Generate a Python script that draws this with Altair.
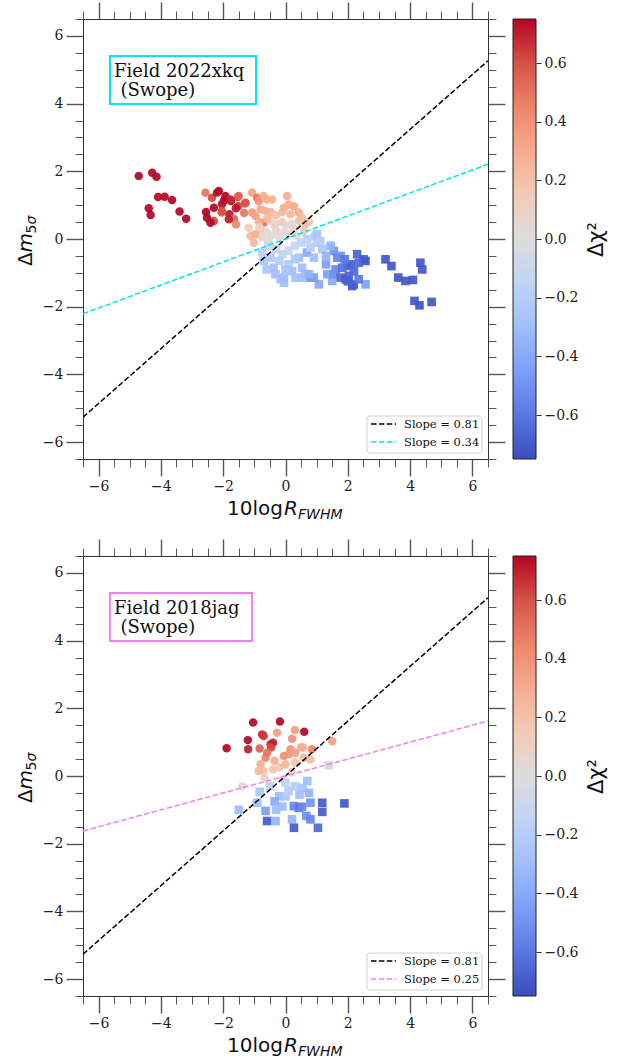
import altair as alt
import pandas as pd

# ---------------- data ----------------
X_MIN, X_MAX = -6.5, 6.5
Y_MIN, Y_MAX = -6.5, 6.5
tick_values = [v / 2 for v in range(-13, 14)]
x_ends = [X_MIN, X_MAX]

coolwarm = ['#3b4cc0', '#5977e3', '#7b9ff9', '#9ebeff', '#c0d4f5', '#dddcdc',
            '#f2cbb7', '#f7ac8e', '#ee8468', '#d65244', '#b40426']
chi_min, chi_max = -0.75, 0.75
cbar_ticks = [-0.6, -0.4, -0.2, 0.0, 0.2, 0.4, 0.6]

# Panel 1: Field 2022xkq
p1_x = [-4.71, -4.28, -4.14, -4.39, -4.33, -4.09, -3.88, -3.64, -3.40, -3.19,
        -2.57, -2.36, -2.20, -2.14, -2.55, -2.52, -2.30, -2.30, -2.05, -1.98,
        -2.04, -1.93, -1.80, -1.75, -1.66, -1.59, -1.53, -1.52, -1.59, -1.31,
        -1.33, -1.82, -2.41, -1.77, -1.50, -1.28, -2.04, -1.07, -0.91, -0.86,
        -0.70, -0.59, -0.43, -1.07, -0.96, -0.80, -0.64, -0.70, -1.18, -1.12,
        -0.96, -1.02, -0.48, -0.30, -0.10, -0.50, -0.30, -0.10, 0.05, 0.10,
        -0.05, 0.27, 0.16, 0.43, 0.53, 0.43, 0.64, 0.59, 0.75, -0.80,
        -0.85, -0.60, -0.75, -0.60, -0.45, -0.30, -0.20, -0.05, 0.10, 0.25,
        0.35, -0.55, -0.85, 0.00, 0.20, -0.35,
        -0.75, -0.70, -0.48, -0.38, -0.32, -0.16, -0.05, 0.10, 0.21, 0.32,
        0.43, 0.53, 0.64, 0.69, 0.91, 0.96, 1.01, 1.01, 1.12, 1.18,
        -0.05, 0.53, -0.55, -0.30, -0.10, 0.10, 0.30, 0.50, 0.70, -0.20,
        0.00, 0.30, 0.80, -0.60,
        0.80, 1.07, 0.91, 0.75, 1.34, 1.50, 1.55, 1.66, 1.77, 1.61,
        1.55, 1.30, 1.30, 2.57, 1.45,
        2.30, 2.51, 2.35, 1.98, 2.09, 1.82, 1.77, 1.93, 2.03, 2.14,
        2.19, 2.35, 2.57, 2.20, 1.90, 3.21, 3.40, 3.62, 3.85, 4.09,
        4.33, 4.39, 4.14, 4.30, 4.69, 2.00]
p1_y = [1.86, 1.96, 1.84, 0.91, 0.71, 1.24, 1.25, 1.15, 0.81, 0.60,
        1.37, 1.22, 1.37, 1.42, 0.80, 0.63, 0.92, 0.53, 0.78, 1.12,
        1.03, 1.27, 0.73, 1.12, 0.60, 0.43, 1.24, 0.97, 0.91, 1.05,
        0.77, 0.58, 0.48, 1.17, 1.27, 1.07, 0.83, 1.37, 1.22, 1.12,
        1.27, 1.17, 1.17, 0.78, 0.68, 0.88, 0.83, 0.48, 0.33, 0.09,
        0.14, -0.11, 0.80, 0.70, 0.80, 0.55, 0.45, 0.50, 1.27, 1.02,
        0.92, 0.97, 0.73, 0.78, 0.63, 0.53, 0.43, 0.24, 0.50, 0.30,
        0.50, 0.60, 0.05, 0.20, 0.10, 0.25, 0.05, 0.20, 0.15, 0.30,
        0.10, -0.05, 0.35, 0.40, 0.45, 0.40,
        -0.40, -0.65, -0.55, -0.85, -1.04, -1.19, -1.14, -0.75, -0.95, -1.14,
        -0.55, -0.85, -1.04, -0.40, -0.55, 0.09, -0.11, 0.14, -0.06, -0.30,
        -1.29, -1.14, -0.20, -0.30, -0.45, -0.35, -0.20, -0.10, 0.00, -0.65,
        -0.90, -0.60, -0.25, -0.90,
        -1.14, -1.34, -1.14, -1.04, -1.04, -1.24, -0.35, -0.55, -0.50, -0.90,
        -1.04, -0.75, -0.50, -1.34, -0.20,
        -0.45, -0.60, -0.70, -0.80, -0.75, -0.85, -1.14, -1.19, -1.09, -1.39,
        -1.34, -1.19, -0.65, -0.95, -0.60, -0.60, -0.80, -1.14, -1.24, -1.21,
        -0.70, -0.90, -1.83, -1.96, -1.86, -1.25]
p1_chi = [0.75, 0.75, 0.75, 0.75, 0.75, 0.75, 0.75, 0.75, 0.75, 0.75,
          0.50, 0.62, 0.72, 0.75, 0.75, 0.75, 0.75, 0.62, 0.55, 0.75,
          0.72, 0.75, 0.72, 0.75, 0.55, 0.45, 0.62, 0.65, 0.72, 0.55,
          0.50, 0.70, 0.75, 0.68, 0.55, 0.60, 0.60, 0.35, 0.50, 0.40,
          0.30, 0.30, 0.28, 0.38, 0.35, 0.32, 0.30, 0.50, 0.15, 0.25,
          0.30, 0.25, 0.25, 0.20, 0.22, 0.12, 0.10, 0.15, 0.30, 0.30,
          0.28, 0.32, 0.25, 0.30, 0.22, 0.20, 0.18, 0.15, 0.20, 0.20,
          0.30, 0.25, 0.08, 0.05, 0.03, 0.05, 0.02, 0.04, 0.03, 0.06,
          0.02, 0.05, 0.08, 0.06, 0.08, 0.08,
          -0.20, -0.25, -0.22, -0.28, -0.30, -0.28, -0.30, -0.22, -0.30, -0.28,
          -0.30, -0.30, -0.32, -0.40, -0.30, -0.22, -0.20, -0.25, -0.20, -0.25,
          -0.30, -0.30, -0.10, -0.12, -0.15, -0.12, -0.10, -0.15, -0.18, -0.20,
          -0.25, -0.22, -0.20, -0.25,
          -0.50, -0.40, -0.45, -0.35, -0.45, -0.40, -0.50, -0.55, -0.50, -0.55,
          -0.50, -0.45, -0.35, -0.45, -0.35,
          -0.68, -0.68, -0.65, -0.65, -0.68, -0.62, -0.65, -0.68, -0.66, -0.70,
          -0.70, -0.60, -0.70, -0.65, -0.60, -0.72, -0.72, -0.72, -0.72, -0.72,
          -0.72, -0.72, -0.72, -0.72, -0.72, -0.68]

# Panel 2: Field 2018jag
p2_x = [-1.89, -1.04, -0.18, -1.21, -1.20, -0.75, -0.70, -0.83, -0.48, -0.40,
        -0.46, -0.27, 0.30, 0.60, 0.21, 0.50, 0.16, -0.05, 0.11, 0.32,
        -0.64, -0.59, 0.85, -0.80, -0.70, -0.86, -0.40, -0.20, 0.00, 0.30,
        0.59, -1.39, -0.67, -0.10, 0.20, -0.35, 1.50, 0.56, 0.80,
        1.39, -1.50, -0.83, -0.91, -0.59, -0.32, -0.30, -0.10, -0.20, 0.00,
        -0.50, 0.00, 0.30, 0.55, 0.70, 0.75, 0.27, 0.43, 0.53, 0.21,
        0.67, 0.80, 0.80, 1.18, 1.18, 1.04, 0.27, 1.89, -0.64, 0.45,
        0.10, -0.35]
p2_y = [0.82, 1.58, 1.61, 1.06, 0.79, 1.23, 1.18, 0.81, 0.94, 0.98,
        0.84, 1.28, 1.36, 1.31, 1.10, 0.85, 0.79, 0.59, 0.64, 0.69,
        0.54, 0.69, 0.79, 0.35, 0.15, 0.15, 0.20, 0.25, 0.35, 0.40,
        0.54, -0.30, -0.05, -0.10, 0.10, 0.45, 1.03, 0.84, 0.49,
        0.32, -1.00, -0.47, -0.79, -1.33, -1.33, -1.00, -0.90, -0.60, -0.60,
        -0.30, -0.20, -0.30, -0.35, -0.15, -0.50, -0.89, -0.94, -0.91, -1.28,
        -1.18, -1.28, -0.79, -0.79, -1.06, -1.53, -1.53, -0.81, -1.03, -0.55,
        -0.45, -0.75]
p2_chi = [0.75, 0.75, 0.75, 0.75, 0.70, 0.68, 0.65, 0.55, 0.68, 0.70,
          0.62, 0.35, 0.35, 0.75, 0.40, 0.30, 0.38, 0.40, 0.38, 0.35,
          0.45, 0.50, 0.45, 0.28, 0.22, 0.25, 0.20, 0.18, 0.25, 0.20,
          0.25, 0.05, 0.08, 0.05, 0.12, 0.30, 0.35, 0.28, 0.22,
          -0.05, -0.30, -0.25, -0.30, -0.70, -0.35, -0.30, -0.30, -0.30, -0.25,
          -0.15, -0.15, -0.20, -0.25, -0.30, -0.35, -0.55, -0.60, -0.55, -0.35,
          -0.50, -0.55, -0.50, -0.70, -0.70, -0.65, -0.70, -0.72, -0.45, -0.30,
          -0.20, -0.40]

p1_slopes = [0.81, 0.34]
p1_line_colors = ["#000000", "#00e5ee"]
p2_slopes = [0.81, 0.25]
p2_line_colors = ["#000000", "#ee82ee"]

W, H = 405, 440
CB_W = 23

color_domain = [chi_min + i * (chi_max - chi_min) / 10 for i in range(11)]
MAJOR = "abs(datum.value % 2) < 0.01"


def axis_main(orient, labels=True):
    kw = dict(orient=orient, values=tick_values, title=None, grid=False,
              tickSize={"condition": {"test": MAJOR, "value": 17}, "value": 8},
              tickWidth={"condition": {"test": MAJOR, "value": 1.4}, "value": 1},
              tickColor="#555555", domainColor="#333333", domainWidth=1,
              labels=labels)
    if labels:
        kw.update(labelExpr=f"{MAJOR} ? datum.label : ''", format=".0f",
                  labelFont="DejaVu Serif", labelFontSize=14, labelColor="#222222",
                  labelPadding=3, labelOverlap=False, labelFlush=False)
    return alt.Axis(**kw)


def text_layer(pieces, x, y, angle=0):
    layers = []
    for txt, size, style, dx, dy in pieces:
        layers.append(alt.Chart(pd.DataFrame({"t": [txt]})).mark_text(
            text=txt, font="DejaVu Sans", fontSize=size, fontStyle=style,
            align="left", baseline="alphabetic", angle=angle, dx=dx, dy=dy,
            color="#111111").encode(x=alt.value(x), y=alt.value(y)))
    return layers


def make_panel(xs, ys, chis, slopes, line_colors, field_lines, field_color, box_w):
    xsc = alt.Scale(domain=[X_MIN, X_MAX], nice=False, zero=False)
    ysc = alt.Scale(domain=[Y_MIN, Y_MAX], nice=False, zero=False)
    csc = alt.Scale(domain=color_domain, range=coolwarm, clamp=True, interpolate="rgb")
    pts = pd.DataFrame({"x": xs, "y": ys, "chi": chis})
    color_enc = alt.Color("chi:Q", scale=csc, legend=None)

    circles = alt.Chart(pts).transform_filter("datum.chi >= 0").mark_circle(
        size=72, opacity=0.92).encode(
        x=alt.X("x:Q", scale=xsc, axis=axis_main("bottom")),
        y=alt.Y("y:Q", scale=ysc, axis=axis_main("left")),
        color=color_enc)
    squares = alt.Chart(pts).transform_filter("datum.chi < 0").mark_square(
        size=74, opacity=0.92).encode(
        x=alt.X("x:Q", scale=xsc, axis=None),
        y=alt.Y("y:Q", scale=ysc, axis=None),
        color=color_enc)

    layers = [circles, squares]
    for i, (s, col) in enumerate(zip(slopes, line_colors)):
        ld = pd.DataFrame({"x": x_ends, "slope": [s] * len(x_ends)})
        ln = alt.Chart(ld).transform_calculate(y="datum.slope * datum.x").mark_line(
            color=col, strokeDash=[5.5, 2.4], strokeWidth=1.5, clip=True).encode(
            x=alt.X("x:Q", scale=xsc, axis=axis_main("top", False) if i == 0 else None),
            y=alt.Y("y:Q", scale=ysc, axis=axis_main("right", False) if i == 0 else None))
        layers.append(ln)

    one = pd.DataFrame({"a": [0]})
    # field label box
    layers.append(alt.Chart(one).mark_rect(fill="white", stroke=field_color, strokeWidth=2).encode(
        x=alt.value(27), x2=alt.value(27 + box_w), y=alt.value(37), y2=alt.value(85)))
    layers.append(alt.Chart(one).mark_text(text=field_lines[0], font="DejaVu Serif", fontSize=18,
                                           align="left", baseline="alphabetic", color="#111111").encode(
        x=alt.value(31), y=alt.value(58)))
    layers.append(alt.Chart(one).mark_text(text=field_lines[1], font="DejaVu Serif", fontSize=18,
                                           align="left", baseline="alphabetic", color="#111111").encode(
        x=alt.value(37.5), y=alt.value(77)))
    # legend box
    layers.append(alt.Chart(one).mark_rect(fill="white", fillOpacity=0.85, stroke="#d0d0d0",
                                           strokeWidth=1, cornerRadius=3).encode(
        x=alt.value(284), x2=alt.value(399), y=alt.value(397), y2=alt.value(434)))
    for j, (s, col) in enumerate(zip(slopes, line_colors)):
        yy = 405 + 18 * j
        layers.append(alt.Chart(one).mark_rule(color=col, strokeDash=[5.5, 2.4], strokeWidth=1.5).encode(
            x=alt.value(288), x2=alt.value(313), y=alt.value(yy)))
        layers.append(alt.Chart(one).mark_text(text=f"Slope = {s:.2f}", font="DejaVu Serif",
                                               fontSize=11.5, align="left", baseline="middle",
                                               color="#111111").encode(
            x=alt.value(321), y=alt.value(yy + 1)))
    # axis titles
    layers += text_layer([("10log", 20, "normal", 0, 0), ("R", 20, "italic", 57, 0),
                          ("FWHM", 14, "italic", 71, 4)], 144, 496)
    layers += text_layer([("Δ", 20, "normal", 0, 0), ("m", 20, "italic", 13.5, 0),
                          ("5", 14, "normal", 32.5, 4), ("σ", 14, "italic", 41.5, 4)],
                         -51, 247, angle=270)

    return alt.layer(*layers).resolve_axis(x="independent", y="independent").properties(
        width=W, height=H)


def colorbar():
    df = pd.DataFrame({"lo": [chi_min], "hi": [chi_max]})
    grad = alt.Gradient(gradient="linear",
                        stops=[alt.GradientStop(offset=i / 10, color=c) for i, c in enumerate(coolwarm)],
                        x1=0, x2=0, y1=1, y2=0)
    return alt.Chart(df).mark_rect(fill=grad, stroke="#222222", strokeWidth=1).encode(
        x=alt.value(0), x2=alt.value(CB_W),
        y=alt.Y("lo:Q", scale=alt.Scale(domain=[chi_min, chi_max], nice=False, zero=False),
                axis=alt.Axis(orient="right", values=cbar_ticks, format=".1f", title="Δχ²",
                              titleAngle=270, titleFont="DejaVu Sans", titleFontSize=21,
                              titleFontWeight="normal", titleColor="#111111", titlePadding=29,
                              tickSize=5, tickColor="#333333", domain=False, grid=False,
                              labelFont="DejaVu Serif", labelFontSize=14, labelColor="#222222",
                              labelPadding=3)),
        y2="hi:Q").properties(width=CB_W, height=H)


panel1 = make_panel(p1_x, p1_y, p1_chi, p1_slopes, p1_line_colors,
                    ["Field 2022xkq", "(Swope)"], "#00e5ee", 146)
panel2 = make_panel(p2_x, p2_y, p2_chi, p2_slopes, p2_line_colors,
                    ["Field 2018jag", "(Swope)"], "#ee82ee", 142)

chart = alt.concat(panel1, colorbar(), panel2, colorbar(), columns=2, bounds="flush",
                   spacing={"row": 97, "column": 25}).resolve_scale(
    x="independent", y="independent", color="independent").properties(
    padding={"left": 16, "top": 1, "right": 2, "bottom": 2},
    background="white").configure_view(stroke=None)

chart.save("out.html", embed_options={"renderer": "svg", "actions": False})
